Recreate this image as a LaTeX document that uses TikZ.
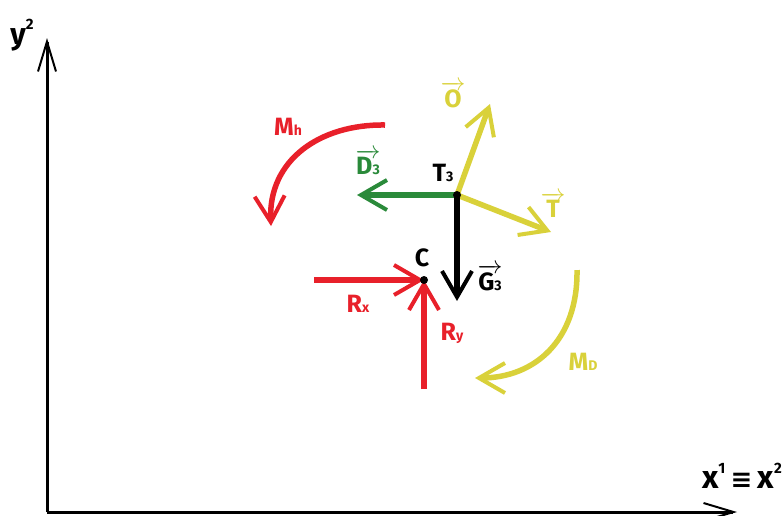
\documentclass[tikz,border=0pt]{standalone}
\usepackage{fontspec}
\setmainfont{Fira Sans}
\newfontfamily\djv{DejaVu Sans}
\usetikzlibrary{arrows.meta}
\definecolor{fred}{HTML}{E8202A}
\definecolor{fyel}{HTML}{D9D13A}
\definecolor{fgrn}{HTML}{2A8A3A}
\newcommand{\vlab}[1]{$\overrightarrow{\mbox{#1}}$}
\newcommand{\sub}[1]{{\fontsize{14}{14}\selectfont #1}}
\newcommand{\supx}[1]{\raisebox{15pt}{\fontsize{15}{15}\selectfont #1}}
\tikzset{
  axis/.style={line width=3pt, -{Straight Barb[length=30pt,width=18pt,line width=2pt]}},
  force/.style={line width=5.5pt, -{Straight Barb[length=26pt,width=30pt,line width=4pt]}},
  lbl/.style={font=\fontsize{25}{25}\selectfont\bfseries, inner sep=0pt},
  dot/.style={circle, fill=black, inner sep=0pt, minimum size=8pt}
}
\begin{document}
\begin{tikzpicture}[x=1pt,y=-1pt]
\useasboundingbox (0,0) rectangle (783,515);
% axes
\coordinate (O) at (47,512);
\coordinate (Ytop) at (47,38);
\coordinate (Xend) at (737,512);
\draw[axis] (O) -- (Ytop);
\draw[axis] (O) -- (Xend);
\node[lbl, font=\fontsize{30}{30}\selectfont\bfseries] (ylab) at (22,35) {y\supx{2}};
\node[lbl, font=\fontsize{32}{32}\selectfont\bfseries] (xlab) at (742,476) {x\supx{1}\,{\djv\bfseries\fontsize{26}{26}\selectfont ≡}\,x\supx{2}};
% points
\coordinate (T3) at (457,195);
\coordinate (C) at (424,280);
% forces at T3
\coordinate (Dend) at (357,195);
\coordinate (Oend) at (490,104);
\coordinate (Tend) at (551,232);
\coordinate (Gend) at (457,301);
\draw[force, fgrn] (T3) -- (Dend);
\draw[force, fyel] (T3) -- (Oend);
\draw[force, fyel] (T3) -- (Tend);
\draw[force, black] (T3) -- (Gend);
\node[dot] (t3dot) at (T3) {};
% forces at C
\coordinate (Rxs) at (314,280);
\coordinate (Rys) at (424,389);
\draw[force, fred] (Rxs) -- (C);
\draw[force, fred] (Rys) -- (C);
\node[dot] (cdot) at (C) {};
% moments
\coordinate (Mhs) at (385,125);
\coordinate (Mhe) at (271,226);
\draw[force, fred] (Mhs) .. controls (320,124) and (268,160) .. (Mhe);
\coordinate (MDs) at (577,270);
\coordinate (MDe) at (475,378);
\draw[force, fyel] (MDs) .. controls (578,340) and (535,378) .. (MDe);
% labels
\node[lbl, text=black] (T3lab) at (443,173) {T\sub{3}};
\node[lbl, text=fgrn] (D3lab) at (368,162) {\vlab{D\sub{3}}};
\node[lbl, text=fyel] (Olab) at (453,95) {\vlab{O}};
\node[lbl, text=fyel] (Tlab) at (553,205) {\vlab{T}};
\node[lbl, text=black] (G3lab) at (490,278) {\vlab{G\sub{3}}};
\node[lbl, text=black] (Clab) at (422,258) {C};
\node[lbl, text=fred] (Rxlab) at (358,304) {R\sub{x}};
\node[lbl, text=fred] (Rylab) at (452,333) {R\sub{y}};
\node[lbl, text=fred] (Mhlab) at (288,127) {M\sub{h}};
\node[lbl, text=fyel] (MDlab) at (583,362) {M\sub{D}};
\end{tikzpicture}
\end{document}
